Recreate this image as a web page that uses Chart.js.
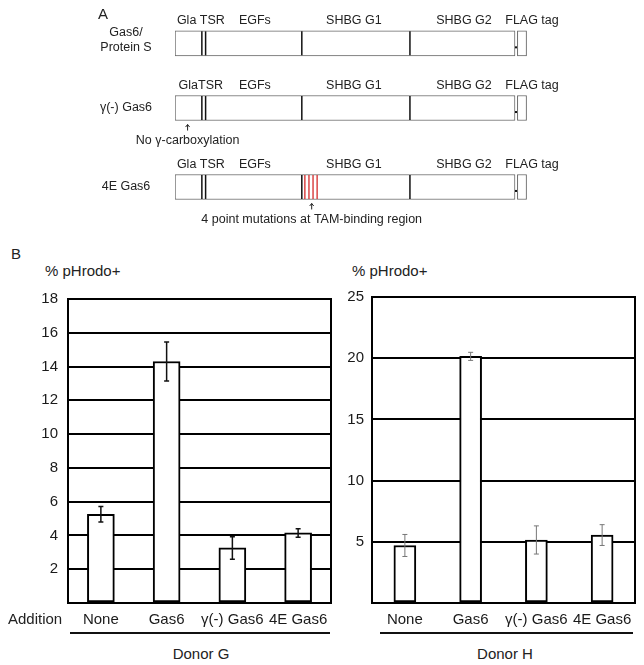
<!DOCTYPE html>
<html>
<head>
<meta charset="utf-8">
<script src="https://cdn.jsdelivr.net/npm/chart.js@4.4.1/dist/chart.umd.min.js"></script>
<style>
  body { margin: 0; background: #fff; }
  #fig { position: relative; width: 644px; height: 665px; font-family: "Liberation Sans", Arial, sans-serif; color: #222; }
  #fig canvas { position: absolute; }
  .t { position: absolute; white-space: nowrap; line-height: 1; font-size: 15px; transform: translateY(-50%); }
  .c { transform: translate(-50%, -50%); }
  .rule { position: absolute; height: 1.5px; background: #111; }
</style>
</head>
<body>
<div id="fig">
  <canvas id="schema" width="644" height="230" style="left:0;top:0"></canvas>
  <canvas id="donorG" width="340" height="350" style="left:0;top:280px"></canvas>
  <canvas id="donorH" width="304" height="350" style="left:340px;top:280px"></canvas>

  <div class="t" style="left:98px;top:13px">A</div>
  <div class="t" style="left:11px;top:253px">B</div>
  <div class="t" style="left:45px;top:270px">% pHrodo+</div>
  <div class="t" style="left:352px;top:270px">% pHrodo+</div>
  <div class="t" style="left:8px;top:618px">Addition</div>
  <div class="rule" style="left:70px;width:260px;top:632px"></div>
  <div class="rule" style="left:380px;width:253px;top:632px"></div>
  <div class="t c" style="left:201px;top:653px">Donor G</div>
  <div class="t c" style="left:505px;top:653px">Donor H</div>
</div>
<script>
// --- panel A : domain map (units along the protein, box = 0..100)
const rowNames = [['Gas6/', 'Protein S'], 'γ(-) Gas6', '4E Gas6'];
const rowSlot = [0, 1, 2.22];
const proteinSpan = [0, 100];
const flagSpan = [100.7, 103.4];
const tsrLines = [7.9, 9.0];
const domainEdges = [37.3, 69.1];
const mutationLines = [38.2, 39.4, 40.6, 41.8];
const domainNames = [
  ['Gla TSR', 'EGFs', 'SHBG G1', 'SHBG G2', 'FLAG tag'],
  ['GlaTSR', 'EGFs', 'SHBG G1', 'SHBG G2', 'FLAG tag'],
  ['Gla TSR', 'EGFs', 'SHBG G1', 'SHBG G2', 'FLAG tag']
];
const domainNamePos = [7.6, 23.5, 52.6, 85, 105];
const notes = [null, 'No γ-carboxylation', '4 point mutations at TAM-binding region'];
const notePos = [null, 3.7, 40.2];

// --- panel B : % pHrodo+ per addition
const additions = ['None', 'Gas6', 'γ(-) Gas6', '4E Gas6'];
const donorG = [5.25, 14.3, 3.26, 4.15];
const donorGErr = [0.46, 1.15, 0.67, 0.25];
const donorH = [4.7, 20.15, 5.15, 5.55];
const donorHErr = [0.9, 0.33, 1.15, 0.85];

const FONT = '"Liberation Sans", Arial, sans-serif';

const schemaDecor = {
  id: 'schemaDecor',
  afterDatasetsDraw(chart) {
    const { ctx, scales: { x } } = chart;
    const px = v => x.getPixelForValue(v);
    ctx.save();
    chart.getDatasetMeta(0).data.forEach((bar, i) => {
      const top = bar.y - bar.height / 2, bot = bar.y + bar.height / 2;
      const vline = (v, color, w) => {
        ctx.strokeStyle = color; ctx.lineWidth = w;
        ctx.beginPath(); ctx.moveTo(px(v), top + 0.5); ctx.lineTo(px(v), bot - 0.5); ctx.stroke();
      };
      tsrLines.forEach(v => vline(v, '#111', 1.5));
      domainEdges.forEach(v => vline(v, '#111', 1.5));
      if (i === 2) mutationLines.forEach(v => vline(v, '#d42a2a', 1.3));
      ctx.fillStyle = '#111';
      ctx.fillRect(px(proteinSpan[1]), bar.y + 3, 2, 2);

      ctx.font = '12.5px ' + FONT;
      ctx.fillStyle = '#222';
      ctx.textAlign = 'center';
      ctx.textBaseline = 'middle';
      domainNames[i].forEach((t, j) => ctx.fillText(t, px(domainNamePos[j]), top - 10));

      const name = [].concat(rowNames[i]);
      name.forEach((t, k) => ctx.fillText(t, x.left - 49, bar.y + (k - (name.length - 1) / 2) * 15 - (name.length > 1 ? 3 : 0)));

      if (notes[i]) {
        const ax = px(notePos[i]);
        ctx.strokeStyle = '#222'; ctx.lineWidth = 1;
        ctx.beginPath();
        ctx.moveTo(ax, bot + 4); ctx.lineTo(ax, bot + 10);
        ctx.moveTo(ax - 2, bot + 6.5); ctx.lineTo(ax, bot + 4); ctx.lineTo(ax + 2, bot + 6.5);
        ctx.stroke();
        ctx.fillText(notes[i], ax, bot + 20);
      }
    });
    ctx.restore();
  }
};

const boxStyle = { grouped: false, barThickness: 25, backgroundColor: '#fff', borderColor: '#666', borderWidth: 1, borderSkipped: false };

new Chart(document.getElementById('schema'), {
  type: 'bar',
  data: {
    datasets: [
      Object.assign({ data: rowSlot.map(s => ({ x: proteinSpan, y: s })) }, boxStyle),
      Object.assign({ data: rowSlot.map(s => ({ x: flagSpan, y: s })) }, boxStyle)
    ]
  },
  options: {
    indexAxis: 'y',
    responsive: false,
    animation: false,
    events: [],
    layout: { padding: { left: 175, right: 108.6, top: 11, bottom: 10.7 } },
    scales: {
      x: { type: 'linear', min: 0, max: 106, display: false },
      y: { type: 'linear', min: -0.5, max: 2.72, reverse: true, offset: false, display: false }
    },
    plugins: { legend: { display: false }, tooltip: { enabled: false } }
  },
  plugins: [schemaDecor]
});

// frame + error bars for the bar panels
const frameAndErrors = {
  id: 'frameAndErrors',
  afterDatasetsDraw(chart, args, opts) {
    const { ctx, chartArea: a, scales: { y } } = chart;
    ctx.save();
    ctx.strokeStyle = '#000'; ctx.lineWidth = 2;
    ctx.strokeRect(a.left, a.top, a.right - a.left, a.bottom - a.top);
    const vals = chart.data.datasets[0].data;
    ctx.strokeStyle = opts.color; ctx.lineWidth = opts.width;
    chart.getDatasetMeta(0).data.forEach((bar, i) => {
      const hi = y.getPixelForValue(vals[i] + opts.err[i]);
      const lo = y.getPixelForValue(vals[i] - opts.err[i]);
      ctx.beginPath();
      ctx.moveTo(bar.x, hi); ctx.lineTo(bar.x, lo);
      ctx.moveTo(bar.x - opts.cap, hi); ctx.lineTo(bar.x + opts.cap, hi);
      ctx.moveTo(bar.x - opts.cap, lo); ctx.lineTo(bar.x + opts.cap, lo);
      ctx.stroke();
    });
    ctx.restore();
  }
};

function donorChart(id, values, errors, yMax, step, axisW, barW, err) {
  return new Chart(document.getElementById(id), {
    type: 'bar',
    data: {
      labels: additions,
      datasets: [{ data: values, backgroundColor: '#fff', borderColor: '#000', borderWidth: 2, borderSkipped: false, barThickness: barW }]
    },
    options: {
      responsive: false,
      animation: false,
      events: [],
      layout: { padding: { left: 0, right: 9, top: 12, bottom: 0 } },
      scales: {
        x: {
          grid: { display: false, drawTicks: false },
          border: { display: false },
          ticks: { autoSkip: false, maxRotation: 0, padding: 8, color: '#1a1a1a', font: { family: FONT, size: 15 } },
          afterFit: s => { s.height = 27; }
        },
        y: {
          min: 0, max: yMax,
          grid: { color: '#000', lineWidth: 2, drawTicks: false },
          border: { display: false },
          ticks: { stepSize: step, padding: axisW > 40 ? 10 : 8, color: '#1a1a1a', font: { family: FONT, size: 15 },
                   callback: v => v === 0 ? '' : v },
          afterFit: s => { s.width = axisW; }
        }
      },
      plugins: {
        legend: { display: false },
        tooltip: { enabled: false },
        frameAndErrors: Object.assign({ err: errors }, err)
      }
    },
    plugins: [frameAndErrors]
  });
}

donorChart('donorG', donorG, donorGErr, 18, 2, 68, 27, { color: '#111', width: 1.5, cap: 2.5 });
donorChart('donorH', donorH, donorHErr, 25, 5, 32, 22, { color: '#777', width: 1, cap: 2.5 });
</script>
</body>
</html>
